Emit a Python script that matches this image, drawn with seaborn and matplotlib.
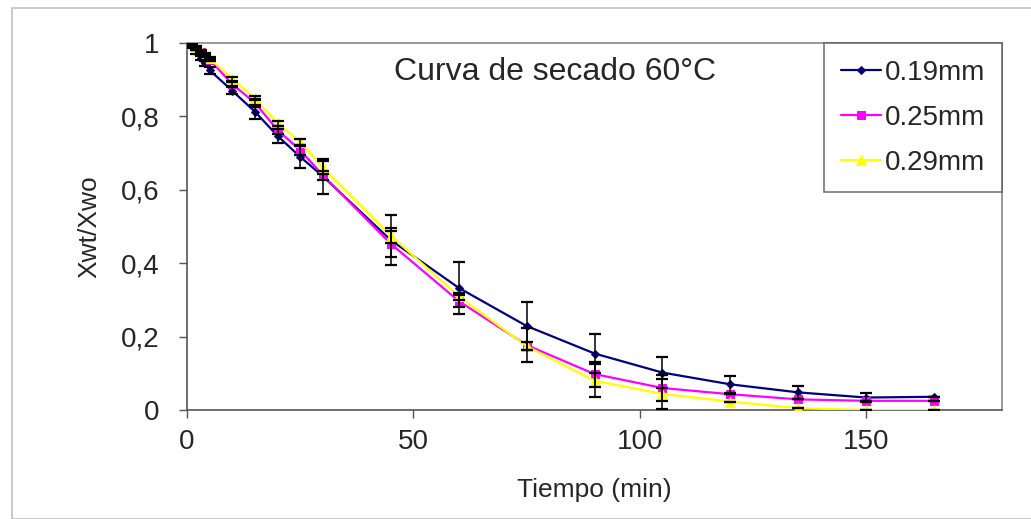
import numpy as np
import pandas as pd
import matplotlib
matplotlib.use('Agg')
import matplotlib.pyplot as plt
import seaborn as sns
from matplotlib.ticker import FuncFormatter
from matplotlib.patches import Rectangle

tiempo = [0, 1, 2, 3, 4, 5, 10, 15, 20, 25, 30, 45, 60, 75, 90, 105, 120, 135, 150, 165]

x_019 = [1.0, 0.99, 0.975, 0.96, 0.945, 0.926, 0.870, 0.813, 0.747, 0.690, 0.637,
         0.463, 0.333, 0.229, 0.154, 0.102, 0.070, 0.048, 0.034, 0.036]
x_025 = [1.0, 0.995, 0.985, 0.975, 0.965, 0.955, 0.888, 0.837, 0.763, 0.708, 0.640,
         0.453, 0.297, 0.177, 0.098, 0.060, 0.043, 0.029, 0.025, 0.025]
x_029 = [1.0, 0.997, 0.988, 0.978, 0.968, 0.958, 0.902, 0.850, 0.781, 0.731, 0.660,
         0.475, 0.310, 0.174, 0.080, 0.044, 0.023, 0.005, 0.0, 0.0]

# desviaciones (barras de error)
err_019 = [0.0, 0.004, 0.005, 0.006, 0.007, 0.010, 0.010, 0.019, 0.019, 0.031, 0.047,
           0.068, 0.070, 0.066, 0.053, 0.042, 0.024, 0.017, 0.011, 0.0]
err_025 = [0.0, 0.003, 0.003, 0.004, 0.004, 0.005, 0.006, 0.010, 0.010, 0.012, 0.012,
           0.036, 0.016, 0.046, 0.034, 0.036, 0.0, 0.0, 0.0, 0.0]
err_029 = [0.0, 0.003, 0.003, 0.003, 0.004, 0.004, 0.006, 0.006, 0.006, 0.008, 0.018,
           0.020, 0.010, 0.010, 0.045, 0.040, 0.0, 0.0, 0.0, 0.0]

series = ['0.19mm', '0.25mm', '0.29mm']
colores = ['#000080', '#FF00FF', '#FFFF00']
marcadores = ['D', 's', '^']
tamanos = [4, 6, 7]

df = pd.DataFrame({
    'tiempo': tiempo * 3,
    'xw': x_019 + x_025 + x_029,
    'serie': [s for s in series for _ in tiempo],
})

sns.set_style('white')
plt.rcParams['font.family'] = ['Liberation Sans', 'DejaVu Sans']

fig = plt.figure(figsize=(10.31, 5.19), dpi=100)
ax = fig.add_axes([0.1814, 0.21, 0.7905, 0.707])

# marco exterior gris
fig.patches.append(Rectangle((12 / 1031, 0), 1.0, 1 - 8 / 519, transform=fig.transFigure,
                             fill=False, edgecolor='#c0c0c0', linewidth=1.2))

for errs, vals in zip([err_019, err_025, err_029], [x_019, x_025, x_029]):
    ax.errorbar(tiempo, vals, yerr=errs, fmt='none', ecolor='black', elinewidth=1.1,
                capsize=4, capthick=1.6, zorder=4)

for nombre, col, mk, ms in zip(series, colores, marcadores, tamanos):
    sub = df[df['serie'] == nombre]
    sns.lineplot(data=sub, x='tiempo', y='xw', color=col, marker=mk, markersize=ms,
                 markeredgecolor=col, linewidth=1.6, label=nombre, ax=ax, zorder=3)

ax.set_xlim(0, 180)
ax.set_ylim(0, 1)
ax.set_xticks([0, 50, 100, 150])
ax.set_yticks([0, 0.2, 0.4, 0.6, 0.8, 1.0])
ax.yaxis.set_major_formatter(FuncFormatter(lambda v, p: ('%g' % round(v, 1)).replace('.', ',')))
ax.tick_params(axis='both', which='major', direction='out', length=6, width=1,
               color='#555555', labelsize=20, bottom=True, left=True)
ax.tick_params(axis='y', pad=14)
ax.tick_params(axis='x', pad=8)

for lado in ['left', 'bottom']:
    ax.spines[lado].set_color('#555555')
    ax.spines[lado].set_linewidth(1.2)
for lado in ['top', 'right']:
    ax.spines[lado].set_color('#888888')
    ax.spines[lado].set_linewidth(1.2)

ax.set_xlabel('Tiempo (min)', fontsize=19, labelpad=16)
ax.set_ylabel('Xwt/Xwo', fontsize=19, labelpad=14)

ax.text(0.452, 0.92, 'Curva de secado 60°C', transform=ax.transAxes, fontsize=23,
        ha='center', va='center')

leg = ax.legend(loc='upper right', bbox_to_anchor=(1.0, 1.0), borderaxespad=0,
                fancybox=False, frameon=True, fontsize=20, labelspacing=0.68,
                handlelength=1.45, handletextpad=0.15, borderpad=0.6, edgecolor='#555555')
leg.get_frame().set_linewidth(1.2)
leg.set_zorder(6)

fig.savefig('out.png', dpi=100)
